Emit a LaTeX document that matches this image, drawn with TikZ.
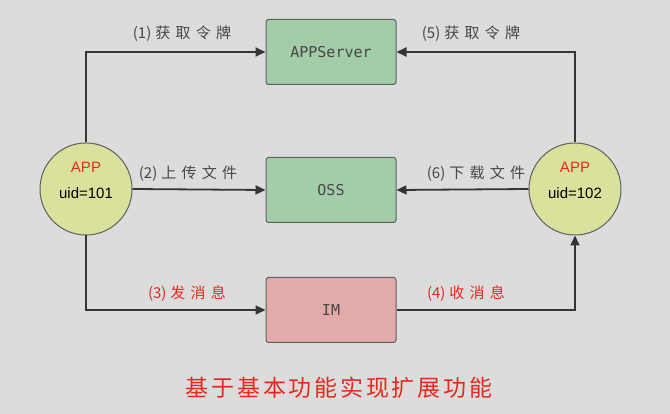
\documentclass[tikz,border=0pt]{standalone}
\usepackage{fontspec}
\setmainfont{Liberation Sans}
\newfontfamily\cjk[LetterSpace=35]{Noto Sans CJK SC}
\newfontfamily\cjkn{Noto Sans CJK SC}
\newfontfamily\cjktitle[LetterSpace=12]{Noto Sans CJK SC}
\newfontfamily\mono{DejaVu Sans Mono}
\usetikzlibrary{arrows.meta}
\definecolor{bg}{HTML}{DCDCDC}
\definecolor{boxgreen}{HTML}{A3CDA9}
\definecolor{boxpink}{HTML}{E2AAAA}
\definecolor{appfill}{HTML}{D9E19C}
\definecolor{edge}{HTML}{5E605E}
\definecolor{wire}{HTML}{353535}
\definecolor{txtgray}{HTML}{474747}
\definecolor{txtred}{HTML}{E8281E}
\newcommand{\stepno}[1]{{\cjkn(#1)}\hspace{4pt}}
\begin{document}
\begin{tikzpicture}[x=1pt,y=-1pt,
    box/.style={draw=edge, line width=1pt, rounded corners=2.5pt,
        minimum width=130pt, minimum height=65pt, text=txtgray,
        font=\mono\fontsize{15}{17}\selectfont},
    app/.style={circle, draw=edge, line width=1pt, fill=appfill,
        minimum size=92pt, inner sep=0pt, align=center, text depth=17pt,
        font=\fontsize{15}{26}\selectfont},
    flow/.style={draw=wire, line width=1.8pt,
        -{Triangle[length=10pt,width=9pt]}},
    lbl/.style={font=\cjk\fontsize{15}{17}\selectfont, text=txtgray},
    redlbl/.style={lbl, text=txtred}]
    \fill[bg] (0,0) rectangle (670,414);
    % servers
    \node[box, fill=boxgreen] (srv) at (331,52) {APPServer};
    \node[box, fill=boxgreen] (oss) at (331,190) {OSS};
    \node[box, fill=boxpink] (im) at (331,310) {IM};
    % clients
    \node[app] (a101) at (86,189) {\textcolor{txtred}{APP}\\uid=101};
    \node[app] (a102) at (575,189) {\textcolor{txtred}{APP}\\uid=102};
    % flows
    \draw[flow] (a101.north) |- (srv.west);
    \draw[flow] (a102.north) |- (srv.east);
    \draw[flow] (a101.east) -- (oss.west);
    \draw[flow] (a102.west) -- (oss.east);
    \draw[flow] (a101.south) |- (im.west);
    \draw[flow] (im.east) -| (a102.south);
    \node[lbl] (t1) at (182,34) {\stepno{1}获取令牌};
    \node[lbl] (t5) at (471,34) {\stepno{5}获取令牌};
    \node[lbl] (t2) at (188,174) {\stepno{2}上传文件};
    \node[lbl] (t6) at (476,174) {\stepno{6}下载文件};
    \node[redlbl] (t3) at (187,294) {\stepno{3}发消息};
    \node[redlbl] (t4) at (466,294) {\stepno{4}收消息};
    \node[font=\cjktitle\fontsize{23}{26}\selectfont, text=txtred] (title)
        at (339,388) {基于基本功能实现扩展功能};
\end{tikzpicture}
\end{document}
